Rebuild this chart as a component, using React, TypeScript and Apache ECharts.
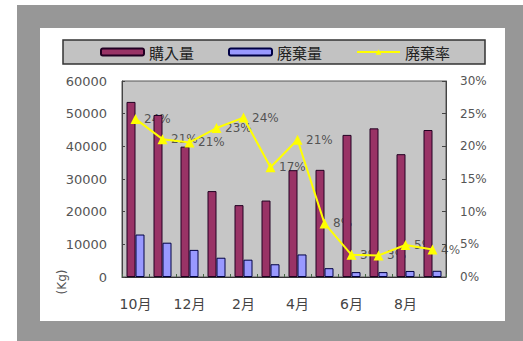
import React, { useEffect, useRef } from "react";
import * as echarts from "echarts";

const categories = ["10月", "11月", "12月", "1月", "2月", "3月", "4月", "5月", "6月", "7月", "8月", "9月"];
const purchase = [53600, 49600, 39900, 26300, 22000, 23400, 32700, 32800, 43500, 45500, 37600, 45000];
const waste = [13000, 10500, 8300, 5900, 5300, 3900, 6900, 2700, 1500, 1500, 1850, 1900];
const rate = [24.2, 21.1, 20.6, 22.8, 24.4, 16.8, 21.0, 8.2, 3.4, 3.3, 4.9, 4.2];
const seriesNames = ["購入量", "廃棄量", "廃棄率"];
const unitLabel = "(Kg)";

const FONT = "DejaVu Sans, Noto Sans CJK JP, sans-serif";

export default function App() {
  const ref = useRef<HTMLDivElement>(null);
  useEffect(() => {
    if (!ref.current) return;
    const chart = echarts.init(ref.current, undefined, { renderer: "svg" });
    chart.setOption({
      animation: false,
      backgroundColor: "#ffffff",
      graphic: [
        { type: "rect", z: -10, shape: { x: 17, y: 5, width: 506, height: 336 }, style: { fill: "#979797" } },
        { type: "rect", z: -9, shape: { x: 40, y: 28, width: 465, height: 293 }, style: { fill: "#ffffff" } },
        {
          type: "rect",
          z: -8,
          shape: { x: 63, y: 40, width: 422, height: 24 },
          style: { fill: "#c2c2c2", stroke: "#333333", lineWidth: 1.5 },
        },
        {
          type: "text",
          x: 62,
          y: 282,
          rotation: Math.PI / 2,
          style: {
            text: unitLabel,
            fill: "#555555",
            font: `12px ${FONT}`,
            align: "center",
            verticalAlign: "middle",
          },
        },
      ],
      legend: {
        data: seriesNames,
        left: 100,
        top: 44,
        padding: 0,
        itemWidth: 43,
        itemHeight: 7,
        itemGap: 34,
        selectedMode: false,
        textStyle: { fontSize: 15, lineHeight: 16, color: "#222222", fontFamily: "Noto Sans CJK JP" },
      },
      grid: {
        left: 122,
        right: 77,
        top: 81,
        bottom: 64,
        show: true,
        backgroundColor: "#c6c6c6",
        borderColor: "#555555",
        borderWidth: 1,
      },
      xAxis: {
        type: "category",
        data: categories,
        boundaryGap: true,
        axisLine: { lineStyle: { color: "#333333", width: 1 } },
        axisTick: { show: true, inside: true, length: 3, interval: 0, lineStyle: { color: "#446644" } },
        axisLabel: { interval: 1, margin: 20, fontSize: 14, color: "#444444", fontFamily: FONT },
      },
      yAxis: [
        {
          type: "value",
          min: 0,
          max: 60000,
          interval: 10000,
          splitLine: { show: false },
          axisLine: { show: true, lineStyle: { color: "#444444" } },
          axisTick: { show: true, inside: true, length: 3, lineStyle: { color: "#444444" } },
          axisLabel: {
            margin: 15,
            fontSize: 13,
            color: "#555555",
            fontFamily: FONT,
            formatter: (v: number) => String(v),
          },
        },
        {
          type: "value",
          min: 0,
          max: 30,
          interval: 5,
          position: "right",
          splitLine: { show: false },
          axisLine: { show: true, lineStyle: { color: "#444444" } },
          axisTick: { show: true, inside: true, length: 4, lineStyle: { color: "#444444" } },
          axisLabel: { margin: 14, fontSize: 12, color: "#555555", fontFamily: FONT, formatter: "{value}%" },
        },
      ],
      series: [
        {
          name: seriesNames[0],
          type: "bar",
          z: 2,
          data: purchase,
          barWidth: 9,
          barGap: "0%",
          itemStyle: { color: "#993366", borderColor: "#220022", borderWidth: 1 },
        },
        {
          name: seriesNames[1],
          type: "bar",
          z: 2,
          data: waste,
          barWidth: 9,
          barGap: "0%",
          itemStyle: { color: "#9999ff", borderColor: "#000044", borderWidth: 1 },
        },
        {
          name: seriesNames[2],
          type: "line",
          z: 3,
          yAxisIndex: 1,
          data: rate,
          symbol: "triangle",
          symbolSize: 10,
          lineStyle: { color: "#ffff00", width: 2 },
          itemStyle: { color: "#ffff00" },
        },
        {
          name: "rateLabels",
          type: "scatter",
          z: 1,
          yAxisIndex: 1,
          data: rate,
          symbolSize: 1,
          itemStyle: { color: "rgba(0,0,0,0)" },
          label: {
            show: true,
            position: "right",
            distance: 8,
            fontSize: 12,
            color: "#333333",
            fontFamily: FONT,
            formatter: (p: any) => `${Math.round(p.value)}%`,
          },
        },
      ],
    });
    return () => chart.dispose();
  }, []);
  return <div ref={ref} style={{ position: "fixed", left: 0, top: 0, width: 523, height: 341 }} />;
}
